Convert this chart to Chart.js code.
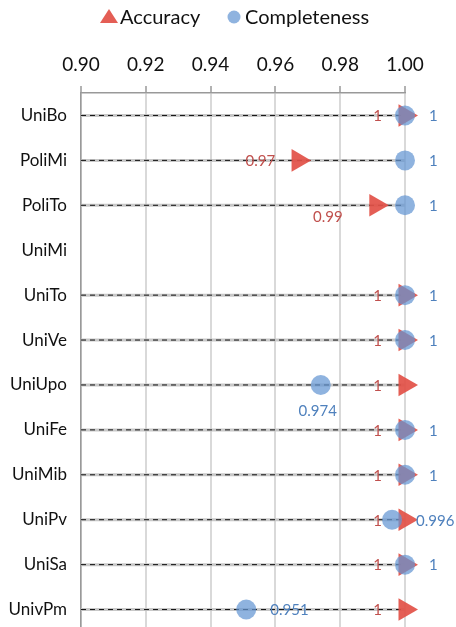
<!DOCTYPE html>
<html>
<head>
<meta charset="utf-8">
<script src="https://cdn.jsdelivr.net/npm/chart.js@4/dist/chart.umd.min.js"></script>
<style>
  html, body { margin: 0; padding: 0; background: #fff; overflow: hidden; }
  canvas { display: block; }
</style>
</head>
<body>
<canvas id="chart" width="456" height="632"></canvas>
<script>
const universities = ['UniBo', 'PoliMi', 'PoliTo', 'UniMi', 'UniTo', 'UniVe', 'UniUpo', 'UniFe', 'UniMib', 'UniPv', 'UniSa', 'UnivPm'];
const accuracy     = [1, 0.967, 0.991, null, 1, 1, 1, 1, 1, 1, 1, 1];
const completeness = [1, 1, 1, null, 1, 1, 0.974, 1, 1, 0.996, 1, 0.951];
const xTicks = [0.90, 0.92, 0.94, 0.96, 0.98, 1.00];

const RED = 'rgba(226, 80, 70, 0.92)';
const BLUE = 'rgba(100, 150, 210, 0.72)';
const RED_TEXT = '#c0504d';
const BLUE_TEXT = '#4f81bd';
const FONT = 'Lato, "Open Sans", sans-serif';
const AXIS_TOP = 93;

// where each value label sits, relative to its marker
const accLabelPos = { PoliTo: 'belowLeft' };
const compLabelPos = { UniUpo: 'below' };

const toPoints = values => values
  .map((v, i) => (v === null ? null : { x: v, y: universities[i] }))
  .filter(p => p);

// gray + dashed guide line from the axis to the furthest marker of each row
const rowLines = {
  id: 'rowLines',
  beforeDatasetsDraw(chart) {
    const { ctx, scales: { x, y } } = chart;
    ctx.save();
    universities.forEach((name, i) => {
      const vals = [accuracy[i], completeness[i]].filter(v => v !== null);
      if (!vals.length) return;
      const yPix = y.getPixelForValue(i);
      const x0 = x.getPixelForValue(x.min);
      const x1 = x.getPixelForValue(Math.max(...vals));
      ctx.beginPath();
      ctx.moveTo(x0, yPix);
      ctx.lineTo(x1, yPix);
      ctx.setLineDash([]);
      ctx.strokeStyle = '#c8c8c8';
      ctx.lineWidth = 3;
      ctx.stroke();
      ctx.beginPath();
      ctx.moveTo(x0, yPix);
      ctx.lineTo(x1, yPix);
      ctx.setLineDash([5, 4]);
      ctx.strokeStyle = '#111';
      ctx.lineWidth = 1;
      ctx.stroke();
    });
    ctx.restore();
  }
};

const fmt = (v, digits) => String(Number(v.toFixed(digits)));

const valueLabels = {
  id: 'valueLabels',
  afterDatasetsDraw(chart) {
    const { ctx, scales: { x, y } } = chart;
    ctx.save();
    ctx.font = '15px ' + FONT;
    ctx.textBaseline = 'middle';
    universities.forEach((name, i) => {
      const yPix = y.getPixelForValue(i);
      if (accuracy[i] !== null) {
        const px = x.getPixelForValue(accuracy[i]);
        ctx.fillStyle = RED_TEXT;
        const text = fmt(accuracy[i], 2);
        if (accLabelPos[name] === 'belowLeft') {
          ctx.textAlign = 'center';
          ctx.fillText(text, px - 48, yPix + 12);
        } else {
          ctx.textAlign = 'right';
          ctx.fillText(text, px - 23, yPix + 1);
        }
      }
      if (completeness[i] !== null) {
        const px = x.getPixelForValue(completeness[i]);
        ctx.fillStyle = BLUE_TEXT;
        const text = fmt(completeness[i], 3);
        if (compLabelPos[name] === 'below') {
          ctx.textAlign = 'center';
          ctx.fillText(text, px - 3, yPix + 26);
        } else {
          ctx.textAlign = 'left';
          ctx.fillText(text, px + 24, yPix + 1);
        }
      }
    });
    ctx.restore();
  }
};

// legend drawn by hand so the marker/text spacing matches the original
const topLegend = {
  id: 'topLegend',
  afterDraw(chart) {
    const { ctx } = chart;
    const cy = 17;
    ctx.save();
    ctx.font = '20px ' + FONT;
    ctx.textBaseline = 'middle';
    ctx.textAlign = 'left';

    ctx.fillStyle = RED;
    ctx.beginPath();
    ctx.moveTo(109, cy - 8);
    ctx.lineTo(118, cy + 6);
    ctx.lineTo(100, cy + 6);
    ctx.closePath();
    ctx.fill();
    ctx.fillStyle = '#111';
    ctx.fillText(chart.data.datasets[0].label, 120, cy + 1);

    ctx.fillStyle = BLUE;
    ctx.beginPath();
    ctx.arc(234, cy, 6.5, 0, Math.PI * 2);
    ctx.fill();
    ctx.fillStyle = '#111';
    ctx.fillText(chart.data.datasets[1].label, 245, cy + 1);
    ctx.restore();
  }
};

new Chart(document.getElementById('chart'), {
  type: 'scatter',
  data: {
    datasets: [
      {
        label: 'Accuracy',
        data: toPoints(accuracy),
        pointStyle: 'triangle',
        pointRotation: 90,
        pointRadius: 13,
        backgroundColor: RED,
        borderWidth: 0,
        clip: false,
        order: 2
      },
      {
        label: 'Completeness',
        data: toPoints(completeness),
        pointStyle: 'circle',
        pointRadius: 10,
        backgroundColor: BLUE,
        borderWidth: 0,
        clip: false,
        order: 1
      }
    ]
  },
  options: {
    responsive: false,
    animation: false,
    devicePixelRatio: 1,
    layout: { autoPadding: false, padding: { top: 0, right: 51, left: 0, bottom: 0 } },
    plugins: {
      tooltip: { enabled: false },
      legend: { display: false }
    },
    scales: {
      x: {
        type: 'linear',
        position: 'top',
        min: xTicks[0],
        max: xTicks[xTicks.length - 1],
        afterBuildTicks(scale) {
          scale.ticks = xTicks.map(v => ({ value: v }));
        },
        afterFit(scale) {
          scale.height = AXIS_TOP;
        },
        ticks: {
          callback: v => v.toFixed(2),
          color: '#111',
          font: { family: FONT, size: 19 },
          padding: 10,
          maxRotation: 0
        },
        grid: {
          color: '#d9d9d9',
          lineWidth: 2,
          tickColor: '#999',
          tickLength: 7,
          tickWidth: 1.5
        },
        border: { color: '#999', width: 1.5 }
      },
      y: {
        type: 'category',
        labels: universities,
        offset: true,
        afterFit(scale) {
          scale.width = 81;
          scale.paddingTop = 0;
          scale.paddingBottom = 0;
        },
        ticks: {
          color: '#111',
          font: { family: FONT, size: 17 },
          padding: 14
        },
        grid: { drawOnChartArea: false, drawTicks: false },
        border: { color: '#999', width: 1.5 }
      }
    }
  },
  plugins: [rowLines, valueLabels, topLegend]
});
</script>
</body>
</html>
